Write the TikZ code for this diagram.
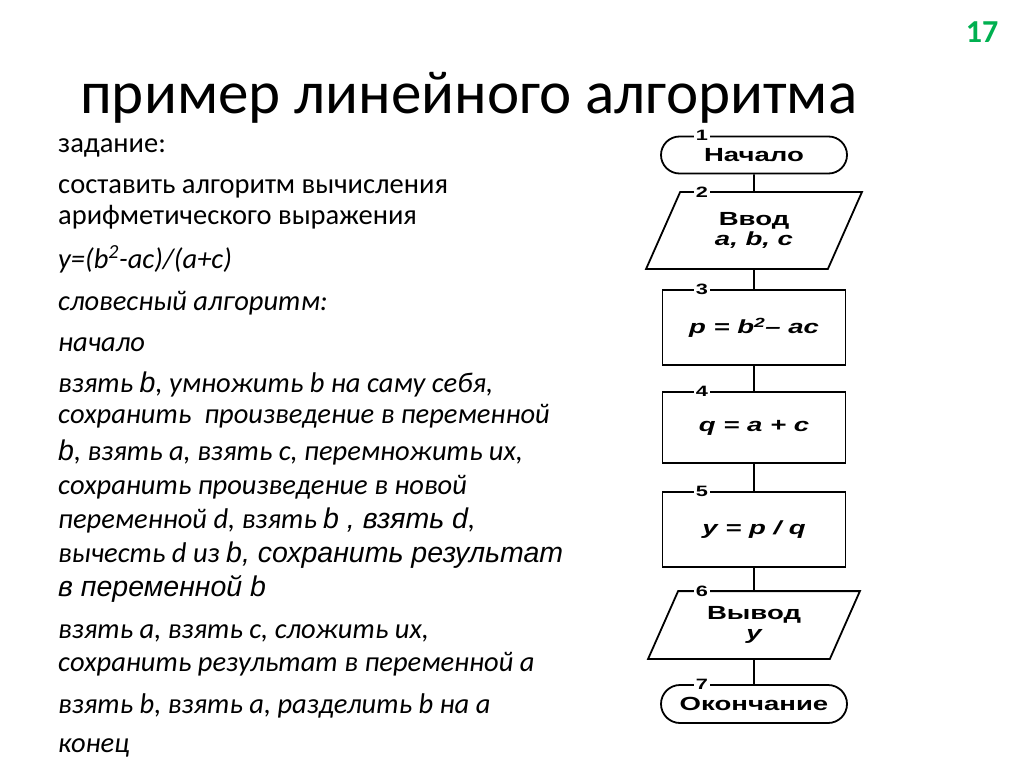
\documentclass[tikz,border=0pt]{standalone}
\usepackage{fontspec}
\setmainfont{Carlito}
\newfontfamily\arialf{Liberation Sans}
\newfontfamily\chartf[FakeStretch=1.45]{Liberation Sans}
\usetikzlibrary{positioning,shapes.misc}
\definecolor{slidegreen}{RGB}{0,176,80}

\begin{document}
\begin{tikzpicture}[x=1pt, y=-1pt,
  txt/.style={anchor=base west, inner sep=0pt, font=\fontsize{28.5}{32}\selectfont},
  itxt/.style={anchor=base west, inner sep=0pt, font=\fontsize{28.5}{32}\selectfont\itshape},
  blk/.style={line width=1.8pt, minimum width=183pt, align=center, inner sep=1pt,
    font=\chartf\bfseries\fontsize{19}{20}\selectfont},
  term/.style={blk, draw, rounded rectangle, minimum width=188pt, minimum height=37pt},
  proc/.style={blk, draw, rectangle, minimum height=75pt},
  io/.style={blk, minimum width=180pt},
  num/.style={fill=white, inner sep=1.5pt, font=\chartf\bfseries\fontsize{15}{15}\selectfont},
  flow/.style={line width=1.8pt}]
\useasboundingbox (0,0) rectangle (1024,767);
% title and slide number
\node[anchor=base west, inner sep=0pt, font=\fontsize{61}{64}\selectfont] (title) at (80,114) {пример линейного алгоритма};
\node[text=slidegreen, font=\bfseries\fontsize{32}{34}\selectfont] (pagenum) at (982,32) {17};
% task and verbal algorithm
\node[txt] (task) at (58,153) {задание:};
\node[txt] (task1) at (58,194) {составить алгоритм вычисления};
\node[txt] (task2) at (58,225) {арифметического выражения};
\node[itxt] (formula) at (58,268) {y=(b\textsuperscript{2}-ac)/(a+c)};
\node[itxt] (verbal) at (58,310) {словесный алгоритм:};
\node[itxt] (vbegin) at (58,351) {начало};
\node[itxt] (v1) at (58,392) {взять {\arialf b}, умножить b на саму себя,};
\node[itxt] (v2) at (58,423) {сохранить\ \ произведение в переменной};
\node[itxt] (v3) at (58,460) {{\arialf b}, взять a, взять c, перемножить их,};
\node[itxt] (v4) at (58,494) {сохранить произведение в новой};
\node[itxt] (v5) at (58,528) {переменной d, взять {\arialf b , взять d},};
\node[itxt] (v6) at (58,562) {вычесть d из {\arialf b, сохранить результат}};
\node[itxt] (v7) at (58,596) {\arialf в переменной b};
\node[itxt] (v8) at (58,638) {взять a, взять c, сложить их,};
\node[itxt] (v9) at (58,671) {сохранить результат в переменной a};
\node[itxt] (v10) at (58,713) {взять b, взять a, разделить b на a};
\node[itxt] (vend) at (58,752) {конец};
% flowchart
\node[term] (start) at (754,155) {Начало};
\node[io, minimum height=75pt] (input) at (754,230.5) {Ввод\\\itshape a, b, c};
\node[proc] (calcp) at (754,327.5) {\itshape p = b\textsuperscript{2}– ac};
\node[proc, minimum height=71pt] (calcq) at (754,427.5) {\itshape q = a + c};
\node[proc] (calcy) at (754,529.5) {\itshape y = p / q};
\node[io, minimum height=66pt] (output) at (754,625) {Вывод\\\itshape y};
\node[term, minimum height=38pt] (stop) at (754,704) {Окончание};
% parallelograms
\draw[flow, line join=miter] ([xshift=17pt]input.north west) -- ([xshift=17pt]input.north east)
  -- ([xshift=-17pt]input.south east) -- ([xshift=-17pt]input.south west) -- cycle;
\draw[flow, line join=miter] ([xshift=15pt]output.north west) -- ([xshift=15pt]output.north east)
  -- ([xshift=-15pt]output.south east) -- ([xshift=-15pt]output.south west) -- cycle;
% connectors
\draw[flow] (start) -- (input);
\draw[flow] (input) -- (calcp);
\draw[flow] (calcp) -- (calcq);
\draw[flow] (calcq) -- (calcy);
\draw[flow] (calcy) -- (output);
\draw[flow] (output) -- (stop);
% block numbers
\node[num] (n1) at ([xshift=-52pt]start.north) {1};
\node[num] (n2) at ([xshift=-52pt]input.north) {2};
\node[num] (n3) at ([xshift=-52pt]calcp.north) {3};
\node[num] (n4) at ([xshift=-52pt]calcq.north) {4};
\node[num] (n5) at ([xshift=-52pt]calcy.north) {5};
\node[num] (n6) at ([xshift=-52pt]output.north) {6};
\node[num] (n7) at ([xshift=-52pt]stop.north) {7};
\end{tikzpicture}
\end{document}
